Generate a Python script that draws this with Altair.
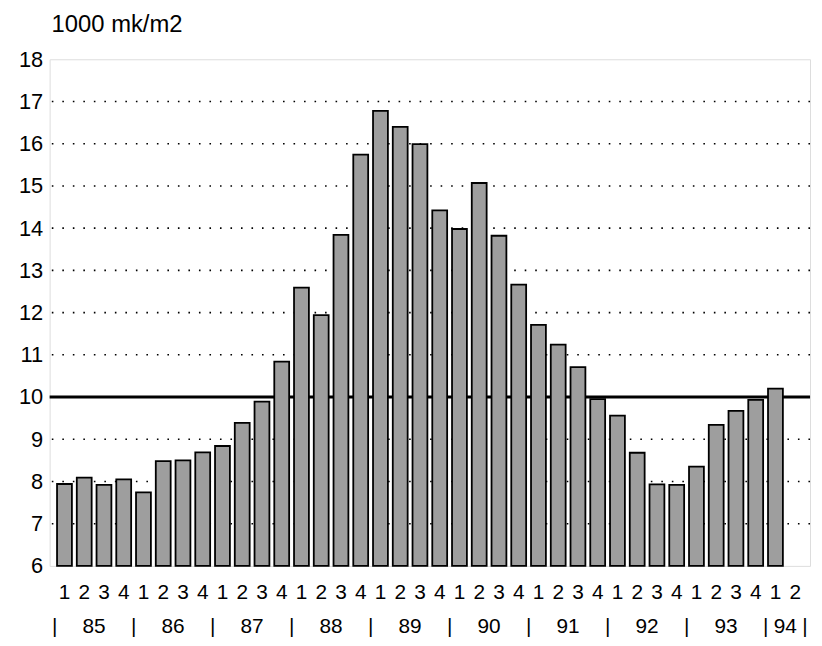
import altair as alt
import pandas as pd

# ---- data ----
quarter_labels = ["1", "2", "3", "4"] * 9 + ["1", "2"]
values = [7.94, 8.09, 7.92, 8.05,
          7.74, 8.48, 8.50, 8.69,
          8.84, 9.39, 9.89, 10.84,
          12.59, 11.94, 13.84, 15.74,
          16.78, 16.40, 15.99, 14.42,
          13.98, 15.07, 13.82, 12.66,
          11.71, 11.24, 10.71, 9.95,
          9.56, 8.68, 7.93, 7.92,
          8.35, 9.34, 9.67, 9.93,
          10.20]
years = ["85", "86", "87", "88", "89", "90", "91", "92", "93", "94"]
quarters_per_year = [4, 4, 4, 4, 4, 4, 4, 4, 4, 2]
grid_values = [7, 8, 9, 11, 12, 13, 14, 15, 16, 17]
reference_value = [10]
y_ticks = list(range(6, 19))

FONT = "Liberation Sans"
W, H = 767, 511
n_slots = len(quarter_labels)

bars = pd.DataFrame({"slot": [i + 0.5 for i in range(len(values))], "value": values})
qdf = pd.DataFrame({"slot": [i + 0.5 for i in range(n_slots)], "label": quarter_labels})
starts = [sum(quarters_per_year[:i]) for i in range(len(years))]
ydf = pd.DataFrame({"slot": [s + n / 2 for s, n in zip(starts, quarters_per_year)], "label": years})
seps = pd.DataFrame({"slot": starts + [n_slots]})
grid = pd.DataFrame({"v": grid_values})
ref = pd.DataFrame({"v": reference_value})

xs = alt.Scale(domain=[0, n_slots], nice=False, zero=False)
ys = alt.Scale(domain=[6, 18], nice=False, zero=False)

gridlines = alt.Chart(grid).mark_rule(color="black", strokeWidth=1.6, strokeDash=[1.6, 9]).encode(
    y=alt.Y("v:Q", scale=ys,
            axis=alt.Axis(values=y_ticks, ticks=False, domain=False, grid=False,
                          labelFontSize=22, labelColor="black", labelFont=FONT,
                          labelPadding=7, title=None)),
)
refline = alt.Chart(ref).mark_rule(color="black", strokeWidth=3.2).encode(
    y=alt.Y("v:Q", scale=ys)
)
barlayer = alt.Chart(bars).mark_bar(width=15, color="#9e9e9e", stroke="black", strokeWidth=1.8).encode(
    x=alt.X("slot:Q", scale=xs, axis=None),
    y=alt.Y("value:Q", scale=ys),
    y2=alt.datum(6),
)
qtext = alt.Chart(qdf).mark_text(fontSize=21, font=FONT, color="black", baseline="middle").encode(
    x=alt.X("slot:Q", scale=xs),
    y=alt.value(H + 27),
    text="label:N",
)
ytext = alt.Chart(ydf).mark_text(fontSize=21, font=FONT, color="black", baseline="middle").encode(
    x=alt.X("slot:Q", scale=xs),
    y=alt.value(H + 62),
    text="label:N",
)
septext = alt.Chart(seps).mark_text(fontSize=21, font=FONT, color="black", baseline="middle", text="|").encode(
    x=alt.X("slot:Q", scale=xs),
    y=alt.value(H + 62),
)

chart = alt.layer(gridlines, refline, barlayer, qtext, ytext, septext).properties(
    width=W, height=H,
    title=alt.TitleParams("1000 mk/m2", anchor="start", frame="group", fontSize=24,
                          fontWeight="normal", font=FONT, color="black", offset=12, dx=2),
    autosize=alt.AutoSizeParams(type="none"),
    padding={"left": 42, "top": 49, "right": 4, "bottom": 70},
).configure_view(stroke="black", strokeWidth=2).configure(background="white")

chart.save("out.html", embed_options={"renderer": "svg", "actions": False})
